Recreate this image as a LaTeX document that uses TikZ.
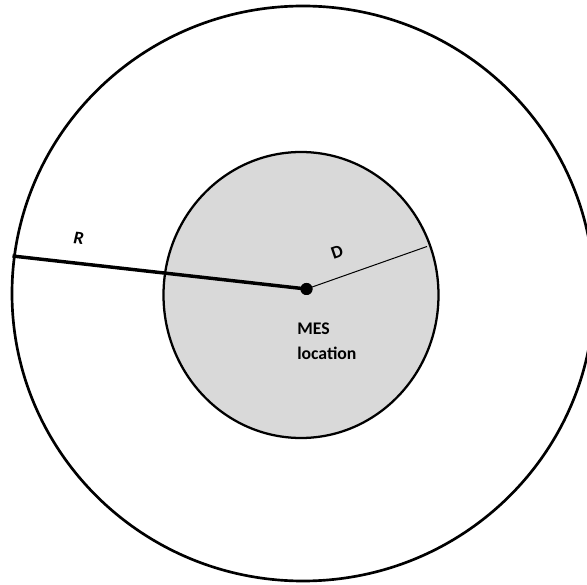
\documentclass[tikz,border=0pt]{standalone}
\usepackage{fontspec}
\setmainfont{Carlito}
\begin{document}
\begin{tikzpicture}[x=0.75pt,y=-0.75pt,
  ring/.style={draw=black,line width=2pt},
  zone/.style={draw=black,fill=zonegray,line width=1.7pt},
  lbl/.style={font=\bfseries\fontsize{13.5}{18}\selectfont,inner sep=0pt},
  dot/.style={circle,fill=black,inner sep=0pt,minimum size=9pt}]
\definecolor{zonegray}{HTML}{D9D9D9}
\useasboundingbox (0,0) rectangle (587,585);
\draw[ring] (303,293.5) ellipse [x radius=291, y radius=287.5];
\draw[zone] (301,295) ellipse [x radius=137.5, y radius=143];
\node[dot] (mes) at (306.5,289) {};
\coordinate (redge) at (12.5,256);
\coordinate (dedge) at (427,246.5);
\draw[line width=2.6pt] (redge) -- (mes.center);
\draw[line width=0.75pt] (mes.center) -- (dedge);
\node[dot] at (mes.center) {};
\node[lbl,rotate=-6,xslant=0.12] (R) at (79,238) {R};
\node[lbl,rotate=19] (D) at (337,252) {D};
\node[lbl,align=left,anchor=north west,font=\bfseries\fontsize{13.3}{18.5}\selectfont] (txt) at (297,322.5) {MES\\location};
\end{tikzpicture}
\end{document}
